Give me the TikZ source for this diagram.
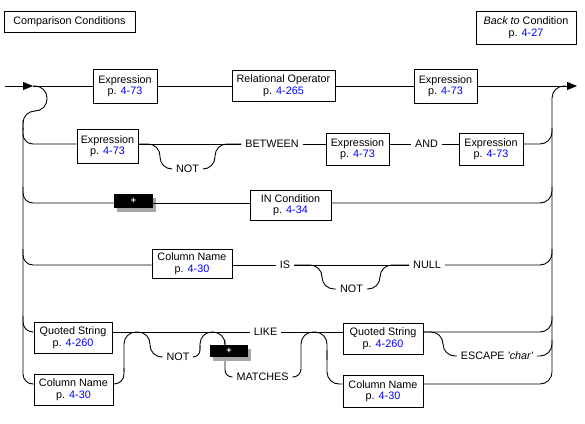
\documentclass[tikz,border=0pt]{standalone}
\usepackage{fontspec}
\setmainfont{Liberation Sans}
\usetikzlibrary{arrows.meta,shadows}
\definecolor{pgblue}{RGB}{0,0,255}
\newcommand{\pg}[1]{\textcolor{pgblue}{#1}}
\begin{document}
\begin{tikzpicture}[x=1pt,y=-1pt,
  line width=0.9pt,
  every node/.style={font=\fontsize{10.8}{11.5}\selectfont},
  box/.style={draw, align=center, inner sep=0pt},
  lbl/.style={inner xsep=3.5pt, inner ysep=0pt, text height=7.7pt, text depth=0pt},
  plusbox/.style={fill=black, text=white, inner sep=0pt, font=\fontsize{9}{9}\selectfont\bfseries,
    drop shadow={shadow xshift=3pt, shadow yshift=-4pt, fill=black!35, opacity=1}},
  tip/.style={-{Triangle[length=10pt,width=8pt]}},
]
\useasboundingbox (0,0) rectangle (585,423);

% row coordinates
\coordinate (start) at (5,86);
\coordinate (a1) at (33,86);
\coordinate (fin) at (577,86);
\coordinate (r2) at (0,144);
\coordinate (r3) at (0,203);
\coordinate (r4) at (0,265);
\coordinate (r5) at (0,332);
\coordinate (r6) at (0,384);

% title boxes
\node[box, minimum width=131pt, minimum height=21pt] (cc) at (69.5,21.5) {Comparison Conditions};
\node[box, minimum width=100pt, minimum height=33pt] (back) at (526,27.5) {\textit{Back to} Condition\\p. \pg{4-27}};

% boxes
\node[box, minimum width=64pt, minimum height=34pt] (e1) at (125,86) {Expression\\p. \pg{4-73}};
\node[box, minimum width=103pt, minimum height=31pt] (relop) at (283.5,85.5) {Relational Operator\\p. \pg{4-265}};
\node[box, minimum width=63pt, minimum height=34pt] (e2) at (445.5,86) {Expression\\p. \pg{4-73}};
\node[box, minimum width=61pt, minimum height=34pt] (e3) at (107.5,146) {Expression\\p. \pg{4-73}};
\node[box, minimum width=63pt, minimum height=32pt] (e4) at (357.5,149) {Expression\\p. \pg{4-73}};
\node[box, minimum width=64pt, minimum height=32pt] (e5) at (491,149) {Expression\\p. \pg{4-73}};
\node[box, minimum width=81pt, minimum height=30pt] (inc) at (290.5,205) {IN Condition\\p. \pg{4-34}};
\node[box, minimum width=80pt, minimum height=29pt] (cn1) at (192,263.5) {Column Name\\p. \pg{4-30}};
\node[box, minimum width=78pt, minimum height=31pt] (qs1) at (73,337.5) {Quoted String\\p. \pg{4-260}};
\node[box, minimum width=79pt, minimum height=31pt] (cn2) at (73.5,389.5) {Column Name\\p. \pg{4-30}};
\node[box, minimum width=80pt, minimum height=31pt] (qs2) at (383,338.5) {Quoted String\\p. \pg{4-260}};
\node[box, minimum width=80pt, minimum height=32pt] (cn3) at (383,391) {Column Name\\p. \pg{4-30}};
\node[plusbox, minimum width=39pt, minimum height=14pt] (plus1) at (133.5,201) {+};

% labels
\node[lbl] (not1) at (187.5,169) {NOT};
\node[lbl] (between) at (272,144) {BETWEEN};
\node[lbl] (and) at (426.5,144) {AND};
\node[lbl] (is) at (285,265) {IS};
\node[lbl] (not2) at (351.5,289) {NOT};
\node[lbl] (null) at (427,265) {NULL};
\node[lbl] (like) at (265.5,332) {LIKE};
\node[lbl] (not3) at (178,357) {NOT};
\node[lbl] (matches) at (262.5,377) {MATCHES};
\node[lbl] (escape) at (497,356) {ESCAPE \textit{\textquotesingle char\textquotesingle}};

% entry
\draw[tip] (start) -- (a1);
\draw (a1) -- (e1.west);
\draw[rounded corners=12pt] (a1) -- (47,86) -- (47,111) -- (23,111) -- (23,130);
\draw[rounded corners=10pt] (23,120) -- (23,384) -- (cn2.west |- r6);
\draw[rounded corners=10pt] (23,128) -- (23,144) -- (e3.west |- r2);
\draw[rounded corners=10pt] (23,187) -- (23,203) -- (plus1.west |- r3);
\draw[rounded corners=10pt] (23,249) -- (23,265) -- (cn1.west |- r4);
\draw[rounded corners=10pt] (23,316) -- (23,332) -- (qs1.west |- r5);

% exit
\draw[rounded corners=12pt] (cn3.east |- r6) -- (552,384) -- (552,86) -- (566,86);
\draw[tip] (e2.east) -- (fin);
\draw[rounded corners=12pt] (e5.east |- r2) -- (552,144) -- (552,128);
\draw[rounded corners=12pt] (inc.east |- r3) -- (552,203) -- (552,187);
\draw[rounded corners=12pt] (null.east) -- (552,265) -- (552,249);
\draw[rounded corners=12pt] (qs2.east |- r5) -- (552,332) -- (552,316);
\draw[rounded corners=12pt] (escape.east) -- (552,356) -- (552,340);

% row 1
\draw (e1.east) -- (relop.west |- e1.east);
\draw (relop.east |- e1.east) -- (e2.west);

% row 2
\draw (e3.east |- r2) -- (between.west);
\draw (between.east) -- (e4.west |- r2);
\draw (e4.east |- r2) -- (and.west);
\draw (and.east) -- (e5.west |- r2);
\draw[rounded corners=12pt] (e3.east |- r2) -- (160,144) -- (160,169) -- (not1.west);
\draw[rounded corners=12pt] (not1.east) -- (215,169) -- (215,144) -- (between.west);

% row 3
\draw (plus1.east |- r3) -- (inc.west |- r3);

% row 4
\draw (cn1.east |- r4) -- (is.west);
\draw (is.east) -- (null.west);
\draw[rounded corners=12pt] (is.east) -- (322,265) -- (322,289) -- (not2.west);
\draw[rounded corners=12pt] (not2.east) -- (380,289) -- (380,265) -- (null.west);

% row 5
\draw (qs1.east |- r5) -- (like.west);
\draw (like.east) -- (qs2.west |- r5);
\draw[rounded corners=12pt] (qs2.east |- r5) -- (443,332) -- (443,356) -- (escape.west);

% bottom branch
\draw[rounded corners=10pt] (cn2.east |- r6) -- (124,384) -- (124,368);
\draw[rounded corners=12pt] (124,372) -- (124,332) -- (150,332) -- (150,357) -- (not3.west);
\draw[rounded corners=7pt] (not3.east) -- (200,357) -- (200,345);
\draw[rounded corners=12pt] (200,350) -- (200,332) -- (225,332) -- (225,350);
\draw[rounded corners=7pt] (225,340) -- (225,377) -- (matches.west);
\draw[rounded corners=8pt] (matches.east) -- (301,377) -- (301,360);
\draw[rounded corners=12pt] (301,360) -- (301,332) -- (327,332) -- (327,360);
\draw[rounded corners=12pt] (327,350) -- (327,384) -- (cn3.west |- r6);

\node[plusbox, minimum width=38pt, minimum height=12pt] (plus2) at (229,351) {+};
\end{tikzpicture}
\end{document}
